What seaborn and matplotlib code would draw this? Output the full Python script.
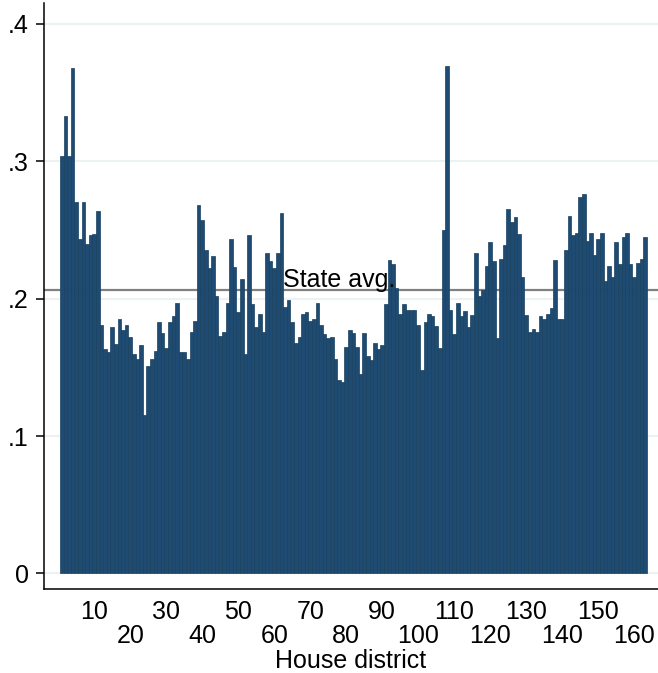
import matplotlib
matplotlib.use("Agg")
import matplotlib.pyplot as plt
import seaborn as sns
import pandas as pd

# ---- data ----
districts = list(range(1, 164))
share = [
    0.304, 0.333, 0.304, 0.368, 0.270, 0.243, 0.270, 0.240, 0.246, 0.247,
    0.264, 0.181, 0.163, 0.161, 0.179, 0.167, 0.185, 0.177, 0.181, 0.172,
    0.160, 0.156, 0.166, 0.115, 0.151, 0.156, 0.162, 0.183, 0.175, 0.164,
    0.183, 0.187, 0.197, 0.161, 0.161, 0.156, 0.176, 0.184, 0.268, 0.257,
    0.235, 0.222, 0.231, 0.202, 0.173, 0.176, 0.197, 0.243, 0.223, 0.190,
    0.214, 0.160, 0.246, 0.196, 0.179, 0.189, 0.176, 0.233, 0.227, 0.222,
    0.233, 0.262, 0.194, 0.199, 0.183, 0.168, 0.172, 0.189, 0.190, 0.184,
    0.185, 0.197, 0.181, 0.174, 0.171, 0.172, 0.156, 0.141, 0.139, 0.165,
    0.177, 0.175, 0.165, 0.145, 0.175, 0.158, 0.155, 0.168, 0.163, 0.166,
    0.196, 0.228, 0.225, 0.208, 0.189, 0.196, 0.192, 0.192, 0.192, 0.181,
    0.148, 0.183, 0.189, 0.187, 0.180, 0.164, 0.250, 0.369, 0.192, 0.174,
    0.197, 0.187, 0.191, 0.179, 0.188, 0.233, 0.202, 0.206, 0.224, 0.241,
    0.227, 0.171, 0.229, 0.239, 0.265, 0.256, 0.259, 0.247, 0.216, 0.188,
    0.176, 0.178, 0.176, 0.187, 0.185, 0.189, 0.193, 0.228, 0.185, 0.185,
    0.235, 0.260, 0.246, 0.248, 0.274, 0.276, 0.242, 0.248, 0.232, 0.243,
    0.248, 0.213, 0.224, 0.216, 0.241, 0.225, 0.245, 0.248, 0.225, 0.216,
    0.226, 0.229, 0.245,
]
state_avg = 0.206
state_label = "State avg."
x_ticks_row1 = [10, 30, 50, 70, 90, 110, 130, 150]
x_ticks_row2 = [20, 40, 60, 80, 100, 120, 140, 160]
y_ticks = [0, 0.1, 0.2, 0.3, 0.4]
y_tick_labels = ["0", ".1", ".2", ".3", ".4"]
x_label = "House district"

df = pd.DataFrame({"district": districts, "share": share})

sns.set_style("white")
plt.rcParams["font.family"] = ["Liberation Sans", "DejaVu Sans"]
plt.rcParams["text.color"] = "black"
plt.rcParams["axes.labelcolor"] = "black"
plt.rcParams["xtick.color"] = "black"
plt.rcParams["ytick.color"] = "black"

fig = plt.figure(figsize=(6.58, 6.73), dpi=100)
ax = fig.add_axes([44 / 658, (673 - 589) / 673, 1 - 44 / 658, (589 - 3) / 673])

navy = "#1f4b72"
sns.barplot(data=df, x="district", y="share", native_scale=True, width=1.0,
            color=navy, edgecolor="#17405f", linewidth=0.5, saturation=1,
            errorbar=None, ax=ax, zorder=3)

# grid lines
for v in y_ticks:
    ax.axhline(v, color="#eaf2f3", lw=1.5, zorder=0)
# state average line
ax.axhline(state_avg, color="#808080", lw=1.6, zorder=1)
ax.text(62.4, state_avg + 0.0022, state_label, fontsize=18, color="black",
        ha="left", va="baseline", zorder=4)

ax.set_xlim(-3.94, 166.6)
ax.set_ylim(-0.0113, 0.415)

ax.set_yticks(y_ticks)
ax.set_yticklabels(y_tick_labels, fontsize=18, color="black")
ax.set_xticks(x_ticks_row1)
ax.set_xticklabels([str(v) for v in x_ticks_row1], fontsize=18, color="black")
ax.set_xticks(x_ticks_row2, minor=True)
ax.set_xticklabels([str(v) for v in x_ticks_row2], minor=True, fontsize=18,
                   color="black")

ax.tick_params(axis="y", length=6, width=1.1, color="black", pad=5, left=True)
ax.tick_params(axis="x", which="major", length=0, pad=8)
ax.tick_params(axis="x", which="minor", length=0, pad=25)

ax.set_xlabel(x_label, fontsize=18, labelpad=1, color="black")
ax.set_ylabel("")

for s in ["top", "right"]:
    ax.spines[s].set_visible(False)
for s in ["left", "bottom"]:
    ax.spines[s].set_color("black")
    ax.spines[s].set_linewidth(1.1)

fig.savefig("out.png", dpi=100)
